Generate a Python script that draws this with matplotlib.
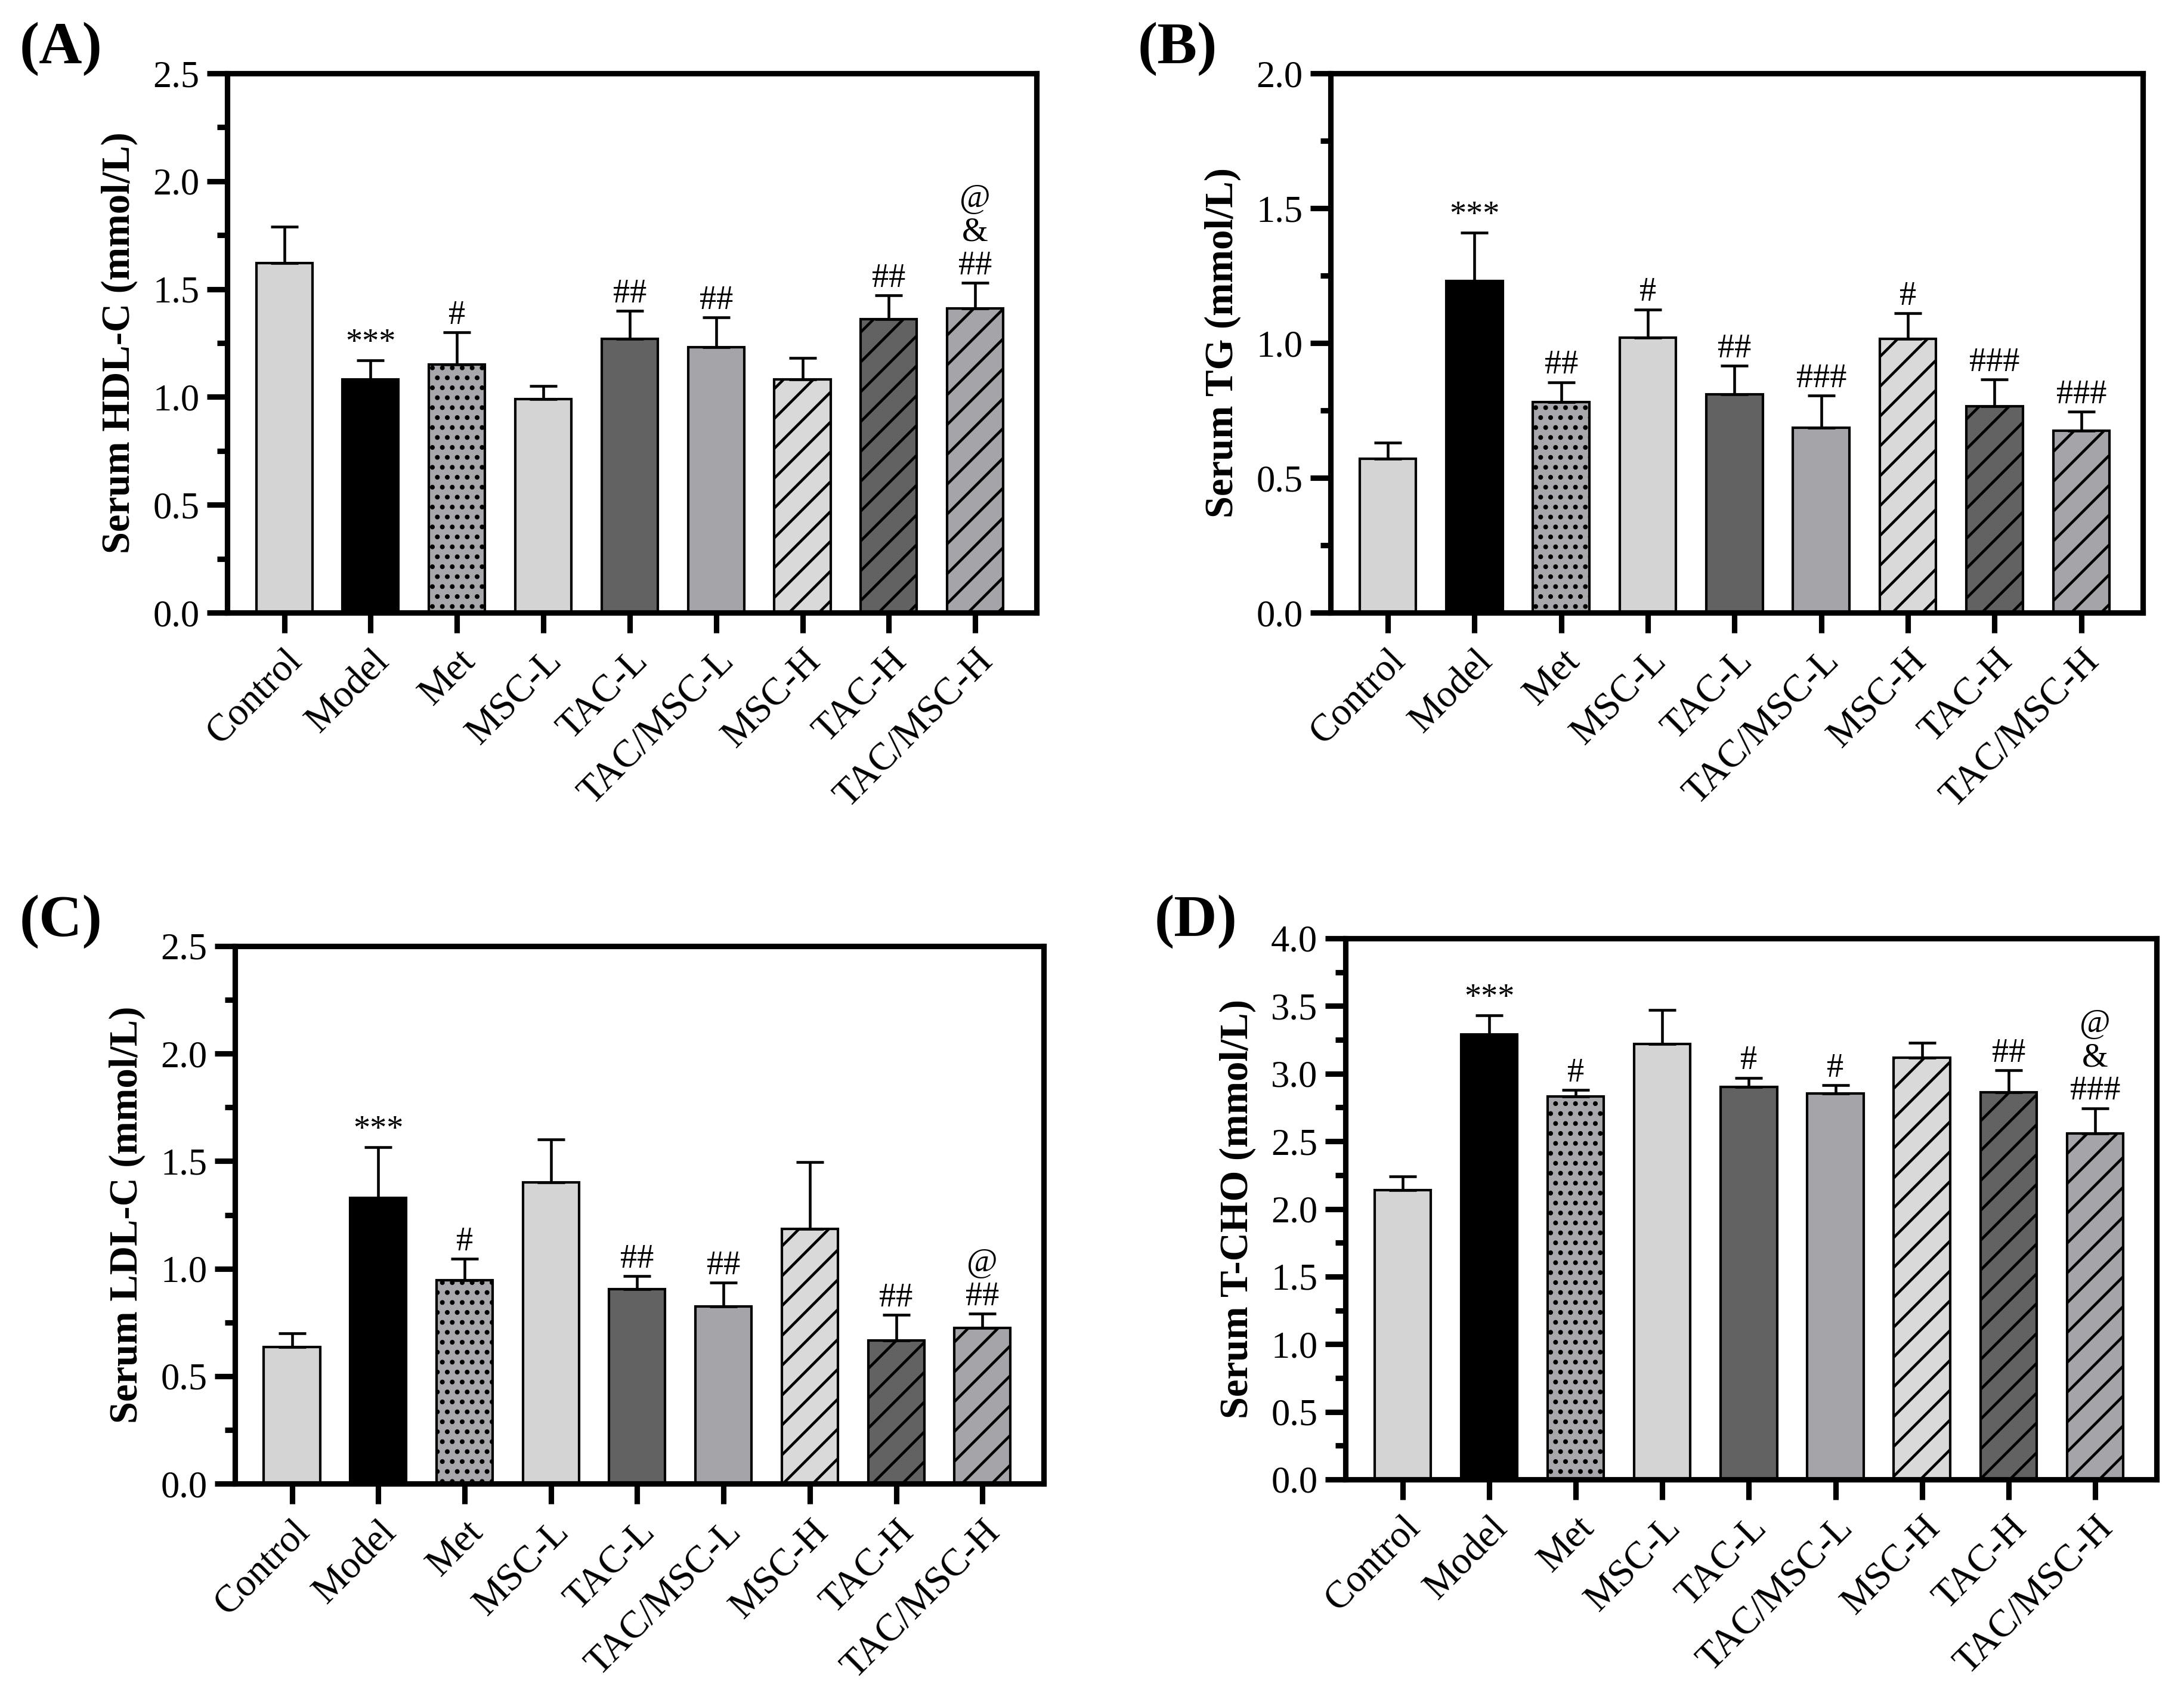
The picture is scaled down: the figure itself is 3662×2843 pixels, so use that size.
import numpy as np
import matplotlib
matplotlib.use("Agg")
import matplotlib.pyplot as plt
from matplotlib.ticker import MultipleLocator, FormatStrFormatter
from matplotlib.transforms import ScaledTranslation

plt.rcParams['font.family'] = ['Liberation Serif', 'DejaVu Serif']
plt.rcParams['hatch.linewidth'] = 1.1

groups = ['Control', 'Model', 'Met', 'MSC-L', 'TAC-L', 'TAC/MSC-L', 'MSC-H', 'TAC-H', 'TAC/MSC-H']

# mean and upper error (SD) for each panel
hdl_mean = [1.62, 1.08, 1.15, 0.99, 1.27, 1.23, 1.08, 1.36, 1.41]
hdl_sd = [0.17, 0.09, 0.15, 0.06, 0.13, 0.14, 0.10, 0.11, 0.12]
hdl_sig = ['', '***', '#', '', '##', '##', '', '##', '@\n&\n##']

tg_mean = [0.57, 1.23, 0.78, 1.02, 0.81, 0.685, 1.015, 0.765, 0.675]
tg_sd = [0.06, 0.18, 0.075, 0.105, 0.105, 0.12, 0.095, 0.10, 0.07]
tg_sig = ['', '***', '##', '#', '##', '###', '#', '###', '###']

ldl_mean = [0.635, 1.33, 0.945, 1.40, 0.905, 0.825, 1.185, 0.665, 0.725]
ldl_sd = [0.065, 0.235, 0.10, 0.20, 0.06, 0.11, 0.31, 0.12, 0.065]
ldl_sig = ['', '***', '#', '', '##', '##', '', '##', '@\n##']

tcho_mean = [2.14, 3.29, 2.83, 3.22, 2.90, 2.855, 3.12, 2.86, 2.56]
tcho_sd = [0.10, 0.14, 0.05, 0.25, 0.07, 0.06, 0.11, 0.165, 0.185]
tcho_sig = ['', '***', '#', '', '#', '#', '', '##', '@\n&\n###']

colors = ['#d4d4d4', '#000000', '#a8a8ac', '#d4d4d4', '#626262', '#a5a4a8', '#d9d9d9', '#626262', '#a5a4a8']
hatches = [None, None, '...', None, None, None, '//', '//', '//']

W, H = 3662, 2843
fig = plt.figure(figsize=(W / 300, H / 300), dpi=300)

# axes boxes in pixels: left, top, right, bottom
boxes = [(381, 123, 1738, 1027), (2231, 123, 3593, 1027),
         (394, 1586, 1750, 2487), (2256, 1573, 3616, 2480)]
panels = [('(A)', hdl_mean, hdl_sd, hdl_sig, 2.5, 'Serum HDL-C (mmol/L)'),
          ('(B)', tg_mean, tg_sd, tg_sig, 2.0, 'Serum TG (mmol/L)'),
          ('(C)', ldl_mean, ldl_sd, ldl_sig, 2.5, 'Serum LDL-C (mmol/L)'),
          ('(D)', tcho_mean, tcho_sd, tcho_sig, 4.0, 'Serum T-CHO (mmol/L)')]
letter_pos = [(33, 82), (1908, 82), (33, 1545), (1936, 1545)]

x = np.arange(len(groups))
for (l, t, r, b), (tag, mean, sd, sig, ymax, ylab), (lx, ly) in zip(boxes, panels, letter_pos):
    ax = fig.add_axes([l / W, 1 - b / H, (r - l) / W, (b - t) / H])
    bars = ax.bar(x, mean, width=0.65, color=colors, edgecolor='black', linewidth=1.0, zorder=2)
    for bar, h in zip(bars, hatches):
        if h:
            bar.set_hatch(h)
    ax.errorbar(x, mean, yerr=[np.zeros(len(mean)), sd], fmt='none', ecolor='black',
                elinewidth=1.1, capsize=5.6, capthick=1.1, zorder=3)
    for xi, m, s, txt in zip(x, mean, sd, sig):
        if txt:
            ax.annotate(txt, (xi, m + s), xytext=(0, 0.5), textcoords='offset points',
                        ha='center', va='bottom', fontsize=13.5, linespacing=1.1)

    ax.set_xlim(-0.66, 8.71)
    ax.set_ylim(0, ymax)
    ax.yaxis.set_major_locator(MultipleLocator(0.5))
    ax.yaxis.set_minor_locator(MultipleLocator(0.25))
    ax.yaxis.set_major_formatter(FormatStrFormatter('%.1f'))
    ax.set_xticks(x)
    ax.set_xticklabels(groups, rotation=45, ha='right', va='top', rotation_mode='anchor')
    shift = ScaledTranslation(3.5 / 72, 0, fig.dpi_scale_trans)
    for lab in ax.get_xticklabels():
        lab.set_transform(lab.get_transform() + shift)
    for s in ax.spines.values():
        s.set_linewidth(2.2)
    ax.tick_params(axis='both', which='major', length=8.2, width=2.2, labelsize=15, pad=3)
    ax.tick_params(axis='x', which='major', labelsize=15.5, pad=4)
    ax.tick_params(axis='y', which='minor', length=4.2, width=2.2)
    ax.tick_params(axis='x', which='minor', bottom=False)
    ax.set_ylabel(ylab, fontsize=16, fontweight='bold', labelpad=6)
    fig.text(lx / W, 1 - ly / H, tag, fontsize=24, fontweight='bold', ha='left', va='center')

fig.savefig('out.png', dpi=300)
